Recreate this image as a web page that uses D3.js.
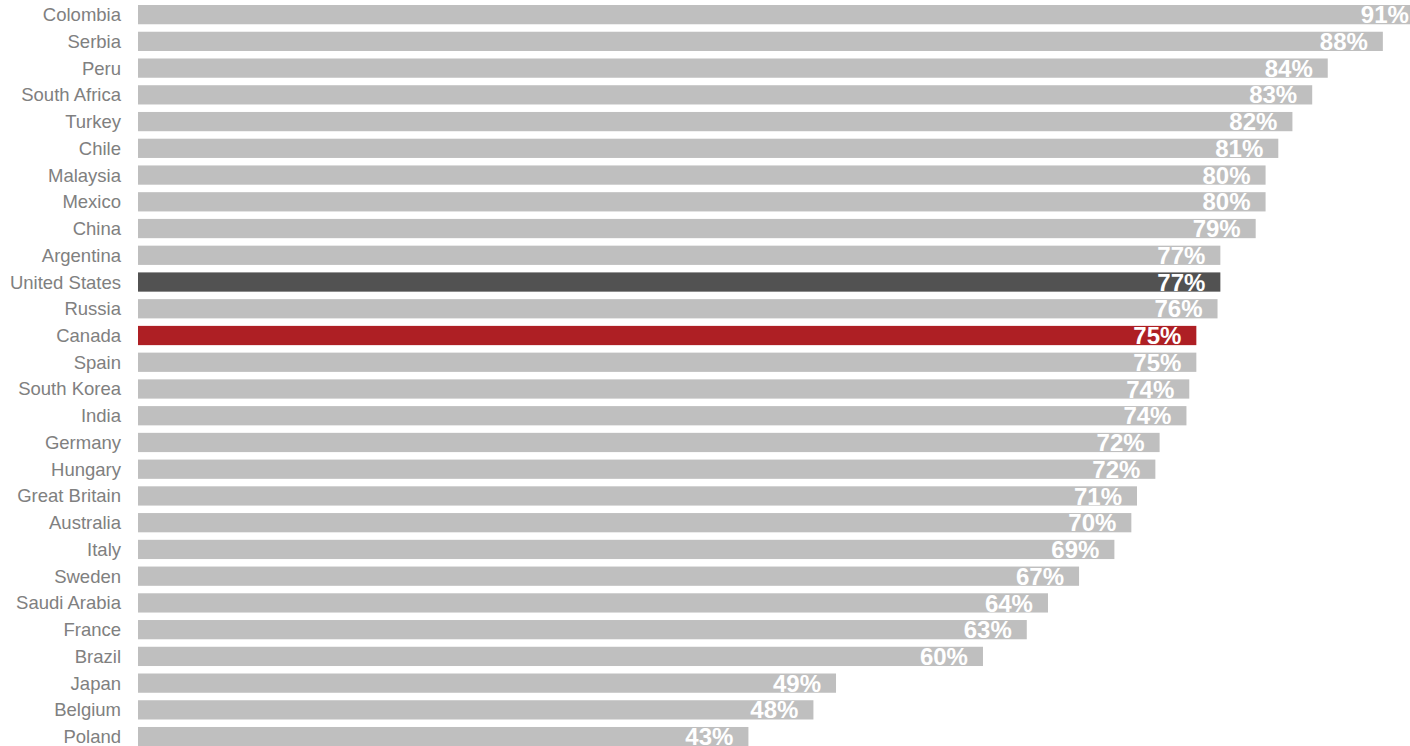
<!DOCTYPE html>
<html>
<head>
	<meta charset="UTF-8">
	<title>Chart</title>
	<script src="https://cdn.jsdelivr.net/npm/d3@7/dist/d3.min.js"></script>
	<style>
		html, body { margin: 0; padding: 0; background: #fff; }
		svg { display: block; font-family: "Liberation Sans", Arial, sans-serif; }
	</style>
</head>
<body>
<svg id="chart" width="1410" height="746"></svg>

<script>
	var countries = ["Colombia", "Serbia", "Peru", "South Africa", "Turkey", "Chile", "Malaysia", "Mexico",
		"China", "Argentina", "United States", "Russia", "Canada", "Spain", "South Korea", "India",
		"Germany", "Hungary", "Great Britain", "Australia", "Italy", "Sweden", "Saudi Arabia", "France",
		"Brazil", "Japan", "Belgium", "Poland"];
	var values = [91.0, 88.1, 84.2, 83.1, 81.7, 80.7, 79.8, 79.8,
		79.1, 76.6, 76.6, 76.4, 74.9, 74.9, 74.4, 74.2,
		72.3, 72.0, 70.7, 70.3, 69.1, 66.6, 64.4, 62.9,
		59.8, 49.4, 47.8, 43.2];
	var highlight = {"United States": "#525252", "Canada": "#ae1f24"};

	var svg = d3.select("#chart");
	var rows = countries.map(function (c, i) { return {name: c, value: values[i]}; });

	var x = d3.scaleLinear().domain([0, 91]).range([138, 138 + 91 * 14.13]);
	var y = d3.scaleBand().domain(countries).range([1.26, 749.98]).paddingInner(0.28).paddingOuter(0.14);

	svg.append("g").selectAll("rect").data(rows).enter().append("rect")
		.attr("x", x(0))
		.attr("y", function (d) { return y(d.name); })
		.attr("width", function (d) { return x(d.value) - x(0); })
		.attr("height", y.bandwidth())
		.attr("fill", function (d) { return highlight[d.name] || "#bfbfbf"; });

	// country names
	svg.append("g").selectAll("text").data(rows).enter().append("text")
		.attr("x", 121)
		.attr("y", function (d) { return y(d.name) + y.bandwidth() / 2; })
		.attr("dy", "0.35em")
		.attr("text-anchor", "end")
		.attr("fill", "#808080")
		.style("font-size", "18.5px")
		.text(function (d) { return d.name; });

	// value labels inside bar ends
	svg.append("g").selectAll("text").data(rows).enter().append("text")
		.attr("x", function (d) { return x(d.value) - 15; })
		.attr("y", function (d) { return y(d.name) + y.bandwidth() - 1; })
		.attr("text-anchor", "end")
		.attr("fill", "#ffffff")
		.style("font-size", "24px")
		.style("font-weight", "bold")
		.text(function (d) { return Math.round(d.value) + "%"; });
</script>
</body>
</html>
